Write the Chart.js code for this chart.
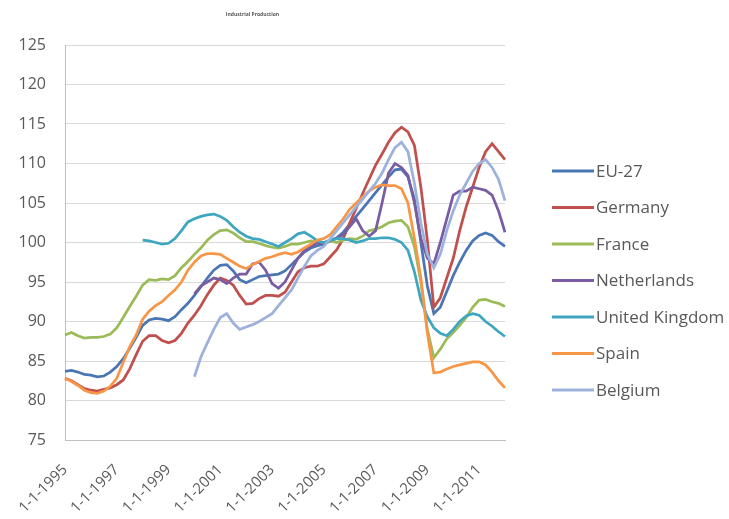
<!DOCTYPE html>
<html>
<head>
<meta charset="utf-8">
<script src="https://cdn.jsdelivr.net/npm/chart.js@4/dist/chart.umd.min.js"></script>
<style>
  html, body { margin: 0; padding: 0; background: #ffffff; }
  #wrap { width: 729px; height: 519px; }
</style>
</head>
<body>
<div id="wrap"><canvas id="c" width="729" height="519"></canvas></div>
<script>
// Industrial production index, quarterly readings (2005 = 100), Q1 1995 .. Q1 2012
const firstYear = 1995;
const lastYear = 2012;
const tickYears = [1995, 1997, 1999, 2001, 2003, 2005, 2007, 2009, 2011];

// one category per quarter: "1995-01", "1995-04", ...
const categories = [];
for (let y = firstYear; y <= lastYear; y++) {
  for (const m of ['01', '04', '07', '10']) {
    if (y === lastYear && m !== '01') break;
    categories.push(y + '-' + m);
  }
}

const eu27 = [
  83.7, 83.8, 83.6, 83.3,   83.2, 83.0, 83.1, 83.6,   84.3, 85.3, 86.6, 88.0,
  89.5, 90.2, 90.4, 90.3,   90.1, 90.6, 91.5, 92.3,   93.3, 94.4, 95.5, 96.5,
  97.1, 97.2, 96.4, 95.3,   94.9, 95.3, 95.7, 95.8,   95.9, 96.0, 96.4, 97.2,
  98.0, 98.8, 99.3, 99.6,   99.8, 100.2, 100.6, 101.3, 102.3, 103.3, 104.3, 105.3,
  106.3, 107.3, 108.3, 109.2, 109.3, 108.3, 105.5, 100.0, 94.5, 91.0, 91.8, 93.8,
  95.8, 97.5, 99.0, 100.2,  100.9, 101.2, 100.9, 100.1, 99.5
];
const germany = [
  82.8, 82.5, 82.0, 81.5,   81.3, 81.2, 81.4, 81.6,   82.0, 82.6, 84.0, 85.8,
  87.5, 88.2, 88.2, 87.6,   87.3, 87.6, 88.5, 89.8,   90.8, 92.0, 93.4, 94.6,
  95.5, 95.2, 94.6, 93.3,   92.2, 92.3, 92.9, 93.3,   93.3, 93.2, 93.7, 95.0,
  96.3, 96.8, 97.0, 97.0,   97.3, 98.2, 99.1, 100.5,  102.5, 104.3, 106.2, 108.0,
  109.8, 111.2, 112.7, 113.9, 114.6, 114.0, 112.3, 107.0, 100.3, 91.8, 93.0, 95.5,
  98.0, 101.5, 104.5, 107.0, 109.5, 111.5, 112.5, 111.5, 110.5
];
const france = [
  88.3, 88.6, 88.2, 87.9,   88.0, 88.0, 88.1, 88.4,   89.2, 90.5, 91.9, 93.2,
  94.6, 95.3, 95.2, 95.4,   95.3, 95.8, 96.8, 97.6,   98.5, 99.3, 100.3, 101.0,
  101.5, 101.6, 101.2, 100.6, 100.1, 100.1, 99.9, 99.6, 99.4, 99.3, 99.5, 99.8,
  99.8, 100.0, 100.2, 100.0, 100.0, 100.2, 100.0, 100.3, 100.5, 100.4, 100.8, 101.5,
  101.7, 102.0, 102.5, 102.7, 102.8, 102.0, 99.5, 95.0, 89.0, 85.4, 86.5, 87.8,
  88.6, 89.5, 90.5, 91.8,   92.7, 92.8, 92.5, 92.3, 91.9
];
const netherlands = [
  null, null, null, null,   null, null, null, null,   null, null, null, null,
  null, null, null, null,   null, null, null, null,   93.5, 94.5, 95.0, 95.5,
  95.3, 94.8, 95.5, 96.0,   96.0, 97.3, 97.5, 96.5,   94.8, 94.2, 95.0, 96.5,
  98.0, 99.0, 99.5, 100.0,  99.8, 100.3, 100.5, 101.0, 102.0, 103.0, 101.5, 100.8,
  101.5, 105.0, 108.8, 110.0, 109.5, 108.5, 105.0, 100.5, 98.0, 97.3, 100.0, 103.0,
  106.0, 106.5, 106.5, 107.0, 106.8, 106.6, 106.0, 104.0, 101.3
];
const unitedKingdom = [
  null, null, null, null,   null, null, null, null,   null, null, null, null,
  100.3, 100.2, 100.0, 99.8, 99.9, 100.5, 101.5, 102.6, 103.0, 103.3, 103.5, 103.6,
  103.3, 102.8, 102.0, 101.3, 100.8, 100.5, 100.4, 100.1, 99.8, 99.5, 100.0, 100.5,
  101.1, 101.3, 100.8, 100.2, 100.0, 100.3, 100.5, 100.5, 100.3, 100.0, 100.2, 100.5,
  100.5, 100.6, 100.6, 100.4, 100.0, 99.0, 96.3, 92.7, 90.6, 89.2, 88.5, 88.2,
  89.0, 90.0, 90.7, 91.0,   90.8, 90.0, 89.4, 88.7, 88.1
];
const spain = [
  82.8, 82.4, 81.9, 81.3,   81.0, 80.9, 81.2, 81.8,   82.8, 84.8, 86.8, 88.3,
  90.3, 91.3, 92.0, 92.5,   93.3, 94.0, 95.0, 96.5,   97.5, 98.3, 98.6, 98.6,
  98.5, 98.0, 97.5, 97.0,   96.7, 97.2, 97.6, 98.0,   98.2, 98.5, 98.7, 98.5,
  98.8, 99.3, 99.8, 100.3,  100.5, 101.0, 102.0, 103.0, 104.2, 105.0, 105.8, 106.5,
  107.0, 107.3, 107.2, 107.2, 106.8, 105.0, 100.5, 95.5, 88.5, 83.5, 83.6, 84.0,
  84.3, 84.5, 84.7, 84.9,   84.9, 84.5, 83.6, 82.5, 81.6
];
const belgium = [
  null, null, null, null,   null, null, null, null,   null, null, null, null,
  null, null, null, null,   null, null, null, null,   83.0, 85.5, 87.3, 89.0,
  90.5, 91.0, 89.8, 89.0,   89.3, 89.6, 90.0, 90.5,   91.0, 92.0, 93.0, 94.0,
  95.5, 97.0, 98.3, 99.0,   99.5, 100.5, 101.5, 102.5, 103.5, 104.5, 105.5, 106.5,
  107.5, 108.8, 110.5, 112.0, 112.7, 111.5, 107.5, 102.5, 98.5, 96.8, 98.5, 101.5,
  104.0, 106.0, 107.5, 109.0, 110.0, 110.5, 109.5, 108.0, 105.3
];

const seriesNames = ['EU-27', 'Germany', 'France', 'Netherlands', 'United Kingdom', 'Spain', 'Belgium'];
const seriesValues = [eu27, germany, france, netherlands, unitedKingdom, spain, belgium];
const seriesColors = ['#4A76B4', '#C0504D', '#9BBB59', '#7A5CA3', '#3FA6C0', '#F79646', '#9DB1DD'];

const textColor = '#595959';
const fontFamily = '"Open Sans", Lato, sans-serif';

// legend drawn to the right of the plot, one short line + label per series
const sideLegend = {
  id: 'sideLegend',
  afterDraw(chart) {
    const ctx = chart.ctx;
    ctx.save();
    chart.data.datasets.forEach((ds, i) => {
      const y = 171 + i * 36.5;
      ctx.strokeStyle = ds.borderColor;
      ctx.lineWidth = 3;
      ctx.beginPath();
      ctx.moveTo(552, y);
      ctx.lineTo(594, y);
      ctx.stroke();
      ctx.fillStyle = textColor;
      ctx.font = '17px ' + fontFamily;
      ctx.textBaseline = 'middle';
      ctx.textAlign = 'left';
      ctx.fillText(ds.label, 596, y + 1);
    });
    ctx.restore();
  }
};

new Chart(document.getElementById('c'), {
  type: 'line',
  data: {
    labels: categories,
    datasets: seriesNames.map((name, i) => ({
      label: name,
      data: seriesValues[i],
      borderColor: seriesColors[i],
      backgroundColor: seriesColors[i],
      borderWidth: 2.75,
      pointRadius: 0,
      tension: 0,
      spanGaps: false,
      order: seriesNames.length - i
    }))
  },
  options: {
    responsive: false,
    animation: false,
    devicePixelRatio: 1,
    layout: { padding: { left: 0, right: 224, top: 0, bottom: 0 } },
    plugins: {
      legend: { display: false },
      tooltip: { enabled: false },
      title: {
        display: true,
        text: 'Industrial Production',
        color: textColor,
        font: { family: fontFamily, size: 5 },
        padding: { top: 12, bottom: 27 }
      }
    },
    scales: {
      x: {
        type: 'category',
        offset: false,
        grid: { display: false, drawTicks: false },
        border: { display: true, color: '#BFBFBF', width: 1 },
        ticks: {
          autoSkip: false,
          minRotation: 45,
          maxRotation: 45,
          padding: 21,
          color: textColor,
          font: { family: fontFamily, size: 15 },
          callback(value, index) {
            const c = categories[index];
            const year = Number(c.slice(0, 4));
            if (c.endsWith('-01') && tickYears.includes(year)) return '1-1-' + year;
            return null;
          }
        },
        afterFit(scale) { scale.height = 79; }
      },
      y: {
        min: 75,
        max: 125,
        grid: { color: '#D9D9D9', lineWidth: 1, drawTicks: false },
        border: { display: true, color: '#BFBFBF', width: 1 },
        ticks: {
          stepSize: 5,
          padding: 19,
          color: textColor,
          font: { family: fontFamily, size: 16 }
        },
        afterFit(scale) { scale.width = 65; }
      }
    }
  },
  plugins: [sideLegend]
});
</script>
</body>
</html>
